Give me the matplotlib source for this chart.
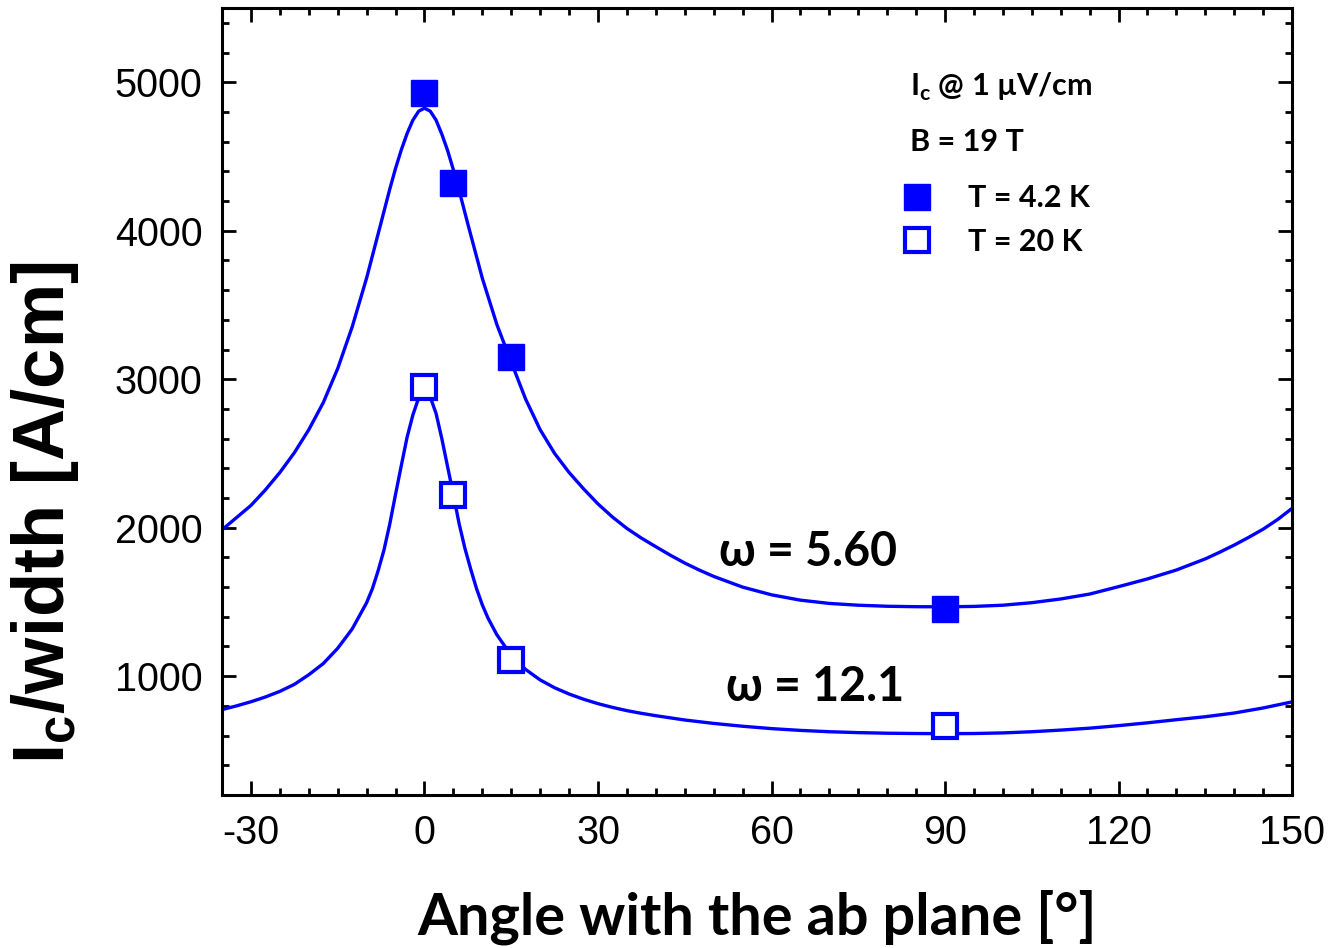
import matplotlib
matplotlib.use("Agg")
import matplotlib.pyplot as plt
from matplotlib.ticker import MultipleLocator

# ---- data ----
angle_pts = [0, 5, 15, 90]
ic_42K = [4925, 4320, 3152, 1455]
ic_20K = [2945, 2222, 1108, 664]

# fit curves, values
fit_angle_42K = [-35, -32.5, -30, -27.5, -25, -22.5, -20, -17.5, -15, -12.5, -10,
                 -7.5, -7, -6, -5, -4, -3, -2, -1, 0, 1, 2, 3, 4, 5, 6, 7, 7.5,
                 10, 12.5, 15, 17.5, 20, 22.5, 25, 27.5, 30, 32.5, 35, 37.5, 40,
                 42.5, 45, 47.5, 50, 55, 60, 65, 70, 75, 80, 85, 90, 95, 100, 105,
                 110, 115, 120, 125, 130, 135, 137.5, 140, 142.5, 145, 147.5, 150]
fit_42K = [1986, 2068, 2150, 2255, 2372, 2505, 2660, 2842, 3072, 3352, 3682,
           4055, 4130, 4280, 4420, 4545, 4655, 4745, 4805, 4825, 4805, 4745, 4650,
           4540, 4410, 4270, 4120, 4045, 3680, 3370, 3115, 2865, 2660, 2500, 2372,
           2262, 2160, 2072, 1995, 1930, 1872, 1815, 1762, 1715, 1672, 1600, 1548,
           1512, 1490, 1478, 1471, 1468, 1467, 1470, 1478, 1495, 1520, 1553, 1603,
           1655, 1715, 1790, 1835, 1883, 1935, 1990, 2055, 2130]

fit_angle_20K = [-35, -32.5, -30, -27.5, -25, -22.5, -20, -17.5, -15, -12.5, -10,
                 -9, -8, -7, -6, -5, -4, -3, -2, -1, -0.5, 0, 0.5, 1, 2, 3, 4, 5,
                 6, 7, 8, 9, 10, 11, 12.5, 15, 17.5, 20, 22.5, 25, 27.5, 30, 32.5,
                 35, 37.5, 40, 45, 50, 55, 60, 65, 70, 75, 80, 85, 90, 95, 100, 105,
                 110, 115, 120, 125, 130, 135, 140, 145, 150]
fit_20K = [775, 800, 828, 860, 898, 945, 1010, 1085, 1188, 1318, 1495,
           1590, 1712, 1850, 2025, 2225, 2420, 2610, 2760, 2875, 2915, 2935, 2915,
           2880, 2770, 2600, 2410, 2222, 2025, 1860, 1720, 1590, 1480, 1390, 1280,
           1140, 1045, 975, 922, 880, 845, 815, 790, 768, 750, 734, 705, 682, 663,
           647, 635, 626, 620, 616, 614, 613, 614, 618, 626, 637, 650, 667, 686,
           707, 727, 752, 786, 827]

omega_42K = "ω = 5.60"
omega_20K = "ω = 12.1"

blue = "#0000ff"
plt.rcParams["mathtext.fontset"] = "custom"
plt.rcParams["mathtext.bf"] = "Lato:bold"
plt.rcParams["mathtext.sf"] = "Liberation Sans:bold"
plt.rcParams["axes.unicode_minus"] = False

fig = plt.figure(figsize=(13.32, 9.48), dpi=100)
ax = fig.add_axes([0.1667, 0.1614, 0.8033, 0.8302])

ax.plot(fit_angle_42K, fit_42K, color=blue, lw=2.4, zorder=2)
ax.plot(fit_angle_20K, fit_20K, color=blue, lw=2.4, zorder=2)
ax.plot(angle_pts, ic_42K, ls="none", marker="s", ms=19, color=blue,
        mec=blue, label="T = 4.2 K", zorder=3)
ax.plot(angle_pts, ic_20K, ls="none", marker="s", ms=17, mfc="white",
        mec=blue, mew=3, label="T = 20 K", zorder=3)

ax.set_xlim(-35, 150)
ax.set_ylim(200, 5500)
ax.xaxis.set_major_locator(MultipleLocator(30))
ax.xaxis.set_minor_locator(MultipleLocator(5))
ax.yaxis.set_major_locator(MultipleLocator(1000))
ax.yaxis.set_minor_locator(MultipleLocator(200))
ax.tick_params(which="both", direction="in", top=True, right=True, width=2)
ax.tick_params(which="major", length=10, pad=14, labelsize=28.5)
ax.tick_params(which="minor", length=5)
for lab in ax.get_xticklabels() + ax.get_yticklabels():
    lab.set_fontfamily("Liberation Sans")
for sp in ax.spines.values():
    sp.set_linewidth(2.2)

ax.set_xlabel("Angle with the ab plane [°]", fontfamily="Lato", fontweight="bold",
              fontsize=41.5, labelpad=27)
ax.set_ylabel(r"I$_\mathsf{c}$/width [A/cm]", fontfamily="Liberation Sans",
              fontweight="bold", fontsize=52)
ax.yaxis.set_label_coords(-0.132, 0.358)

ax.text(51.0, 1838, omega_42K, fontsize=33.5, fontweight="bold",
        family=["Lato", "DejaVu Sans"], ha="left", va="center")
ax.text(52.2, 926, omega_20K, fontsize=33.5, fontweight="bold",
        family=["Lato", "DejaVu Sans"], ha="left", va="center")

ax.text(0.643, 0.900, r"I$_\mathbf{c}$ @ 1 µV/cm", transform=ax.transAxes,
        fontsize=22, fontweight="bold", fontfamily="Lato", va="center")
ax.text(0.643, 0.830, "B = 19 T", transform=ax.transAxes,
        fontsize=22, fontweight="bold", fontfamily="Lato", va="center")

leg = ax.legend(loc="upper left", bbox_to_anchor=(0.6355, 0.776), frameon=False,
                borderpad=0, borderaxespad=0, handlelength=1.0,
                handletextpad=1.15, labelspacing=0.5,
                prop={"family": "Lato", "weight": "bold", "size": 22})

fig.savefig("out.png", dpi=100)
